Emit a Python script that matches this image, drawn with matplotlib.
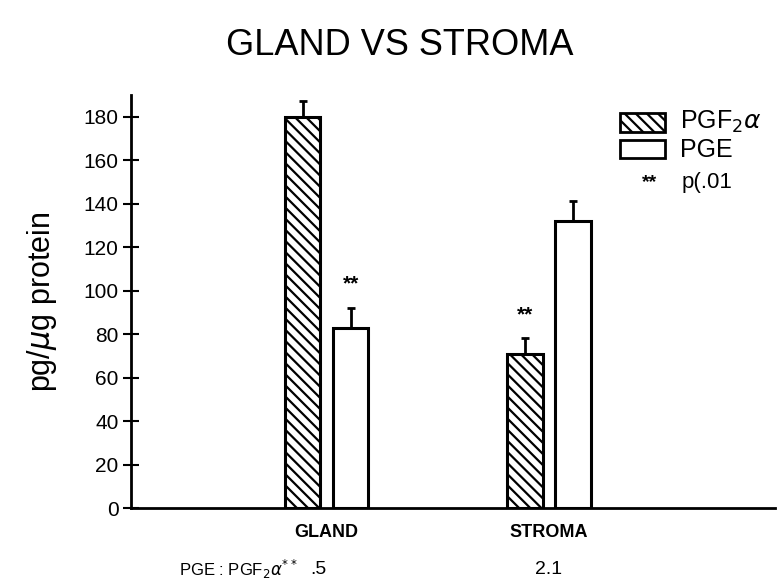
"""
Gland vs stroma: PGF2a and PGE content (pg/ug protein)
"""
import matplotlib
matplotlib.use("Agg")
import matplotlib.pyplot as plt
from matplotlib.patches import Rectangle
import numpy as np

# data
categories = ["GLAND", "STROMA"]
pgf_values = [180, 71]
pgf_err = [7, 7]
pge_values = [83, 132]
pge_err = [9, 9]
ratio_labels = [".5", "2.1"]
signif = [(0, "pge"), (1, "pgf")]   # which bars carry **
yticks = list(range(0, 181, 20))

plt.rcParams['font.family'] = ['Liberation Sans', 'DejaVu Sans']
plt.rcParams['hatch.linewidth'] = 1.6

fig = plt.figure(figsize=(7.81, 5.86), dpi=100)
ax = fig.add_axes([0.168, 0.133, 0.824, 0.705])

x = np.arange(len(categories))
w = 0.16
off = 0.108

ax.bar(x - off, pgf_values, width=w, facecolor='white', edgecolor='black',
       linewidth=2.2, hatch='\\\\\\', zorder=2)
ax.bar(x + off, pge_values, width=w, facecolor='white', edgecolor='black',
       linewidth=2.2, zorder=2)

# upward-only error bars
ax.errorbar(x - off, pgf_values, yerr=[np.zeros(len(x)), pgf_err], fmt='none',
            ecolor='black', elinewidth=2, capsize=3, capthick=2, zorder=3)
ax.errorbar(x + off, pge_values, yerr=[np.zeros(len(x)), pge_err], fmt='none',
            ecolor='black', elinewidth=2, capsize=3, capthick=2, zorder=3)

# significance stars
for i, which in signif:
    if which == "pge":
        xs, top = x[i] + off, pge_values[i] + pge_err[i]
    else:
        xs, top = x[i] - off, pgf_values[i] + pgf_err[i]
    ax.text(xs, top + 11, "**", ha='center', va='center', fontsize=15,
            fontweight='bold')

ax.set_xlim(-0.879, 2.016)
ax.set_ylim(0, 190)
ax.set_yticks(yticks)
ax.tick_params(axis='y', direction='inout', length=12, width=1.5,
               labelsize=15, pad=3)
ax.set_xticks([])
for s in ['top', 'right']:
    ax.spines[s].set_visible(False)
ax.spines['left'].set_linewidth(2)
ax.spines['bottom'].set_linewidth(2)
ax.set_ylabel("pg/$\\mu$g protein", fontsize=22, labelpad=18)

# category labels and ratio row
for xi, name, r in zip(x, categories, ratio_labels):
    ax.text(xi, -0.058, name, transform=ax.get_xaxis_transform(), ha='center',
            va='center', fontsize=13, fontweight='bold')
    ax.text(xi - (0.035 if r == ".5" else 0), -0.148, r,
            transform=ax.get_xaxis_transform(), ha='center', va='center',
            fontsize=14)
ax.text(-0.665, -0.148, "PGE : PGF$_2\\alpha^{**}$",
        transform=ax.get_xaxis_transform(), ha='left', va='center',
        fontsize=12)

fig.text(0.512, 0.922, "GLAND VS STROMA", ha='center', va='center', fontsize=26)

# legend drawn by hand in axes coords
ax.add_patch(Rectangle((0.759, 0.910), 0.07, 0.046, transform=ax.transAxes,
                       facecolor='white', edgecolor='black', linewidth=2,
                       hatch='\\\\\\', clip_on=False))
ax.text(0.852, 0.935, "PGF$_2\\alpha$", transform=ax.transAxes, ha='left',
        va='center', fontsize=18)
ax.add_patch(Rectangle((0.759, 0.847), 0.07, 0.044, transform=ax.transAxes,
                       facecolor='white', edgecolor='black', linewidth=2,
                       clip_on=False))
ax.text(0.852, 0.866, "PGE", transform=ax.transAxes, ha='left', va='center',
        fontsize=18)
ax.text(0.806, 0.787, "**", transform=ax.transAxes, ha='center', va='center',
        fontsize=14, fontweight='bold')
ax.text(0.855, 0.787, "p(.01", transform=ax.transAxes, ha='left', va='center',
        fontsize=16)

fig.savefig("out.png", dpi=100, facecolor='white')
